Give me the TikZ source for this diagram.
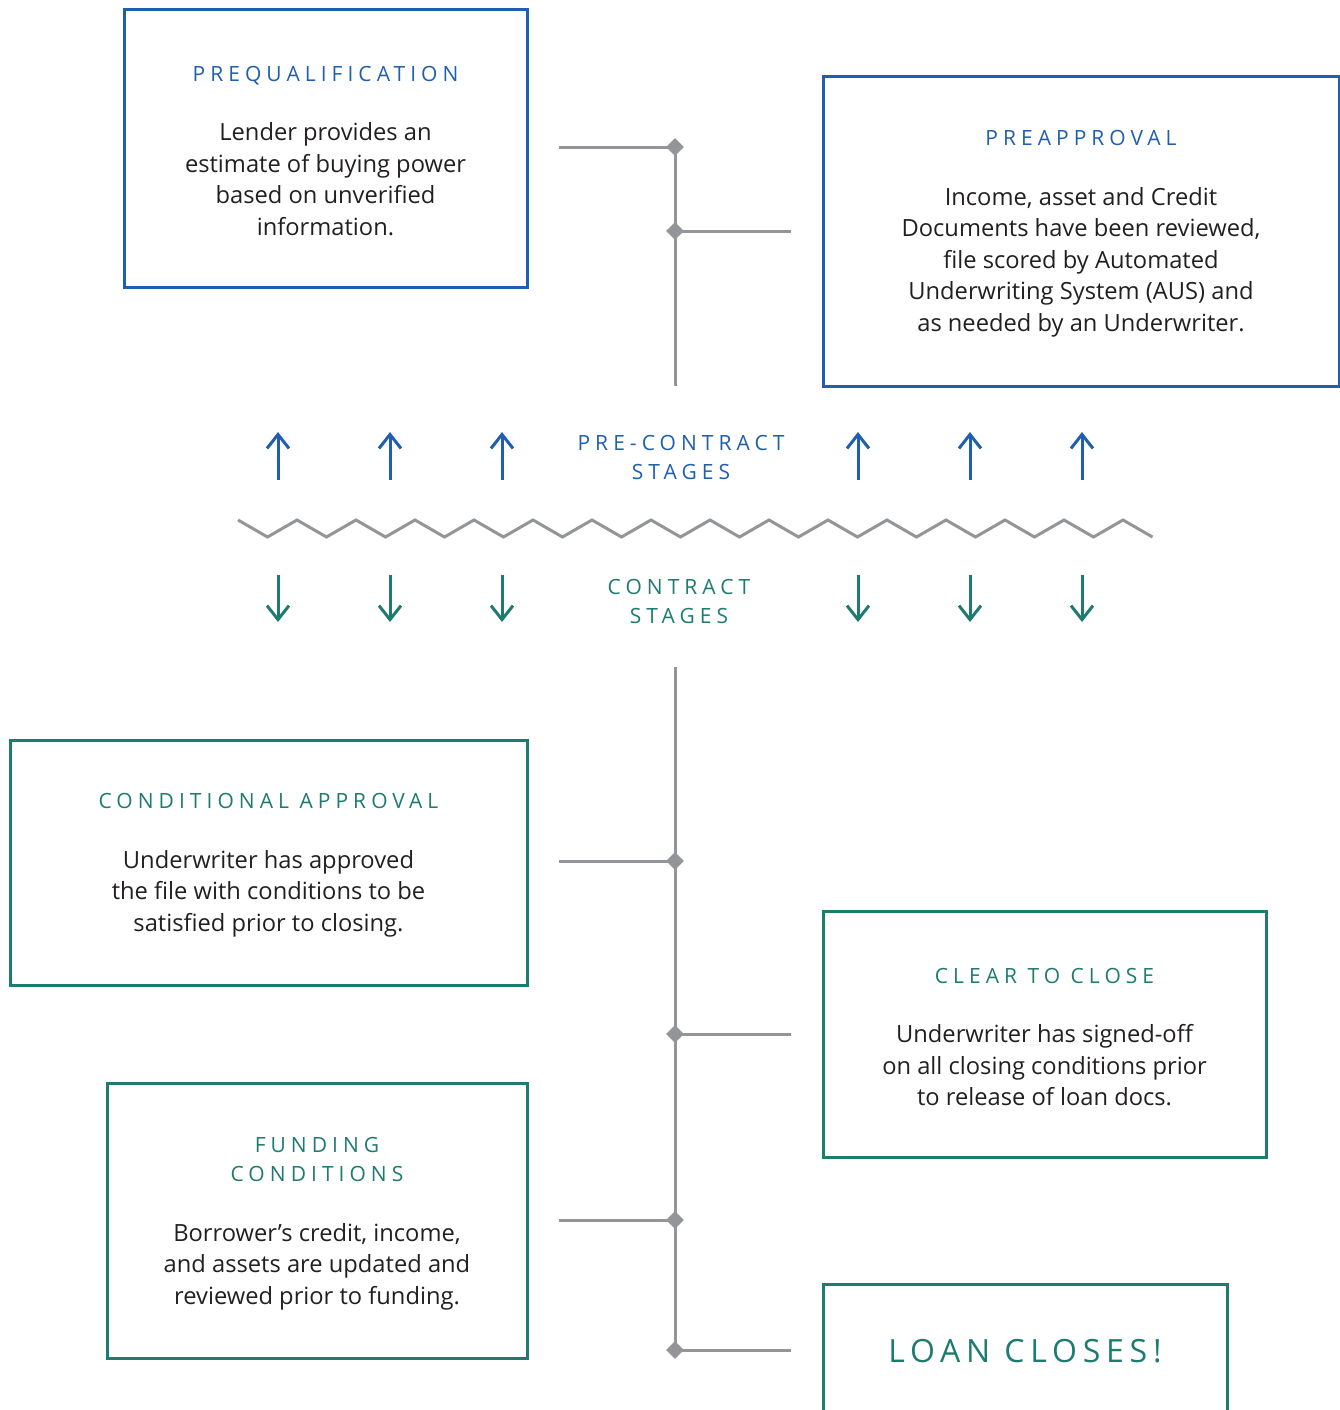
\documentclass[tikz,border=0pt]{standalone}
\usepackage{fontspec}
\setmainfont{Open Sans}
\newfontfamily\spacedfont[LetterSpace=24]{Open Sans}
\newfontfamily\widefont[LetterSpace=18]{Open Sans}
\usetikzlibrary{arrows,arrows.meta,shapes,positioning}
\definecolor{stageblue}{HTML}{1F5FAD}
\definecolor{stagegreen}{HTML}{1E7B6F}
\definecolor{linegray}{HTML}{939598}
\definecolor{bodytext}{HTML}{231F20}
\newcommand{\stagehead}[2]{{\color{#1}\spacedfont\fontsize{10.5}{14.5}\selectfont\rule{0pt}{10.5pt}#2}}

\begin{document}
\begin{tikzpicture}[x=0.5pt,y=-0.5pt]
\tikzset{stagebox/.style = {draw, line width=1.5pt, align=center,
  inner sep=0pt, text=bodytext, font=\fontsize{11.85}{15.75}\selectfont},
  prebox/.style = {stagebox, draw=stageblue},
  conbox/.style = {stagebox, draw=stagegreen},
  joint/.style = {diamond, fill=linegray, inner sep=0pt, minimum size=9pt},
  timeline/.style = {draw=linegray, line width=1.5pt},
  uparrow/.style = {draw=stageblue, line width=1.5pt,
  -{Straight Barb[length=7pt,width=11pt]}},
  downarrow/.style = {uparrow, draw=stagegreen},
  stagelabel/.style = {align=center, inner sep=0pt,
  font=\spacedfont\fontsize{10.5}{14.5}\selectfont}}
\useasboundingbox (0,0) rectangle (1340,1410);

% pre-contract boxes
\node[prebox, minimum width=201.5pt, minimum height=139pt] (prequal) at (325.5,148)
  {\stagehead{stageblue}{PREQUALIFICATION}\\[14pt]
   Lender provides an\\ estimate of buying power\\ based on unverified\\ information.};
\node[prebox, minimum width=258pt, minimum height=155pt] (preapp) at (1081,231)
  {\stagehead{stageblue}{PREAPPROVAL}\\[14pt]
   Income, asset and Credit\\ Documents have been reviewed,\\ file scored by Automated\\
   Underwriting System (AUS) and\\ as needed by an Underwriter.};

% contract boxes
\node[conbox, minimum width=258.5pt, minimum height=122.5pt] (condapp) at (268.5,862.5)
  {\stagehead{stagegreen}{CONDITIONAL APPROVAL}\\[14pt]
   Underwriter has approved\\ the file with conditions to be\\ satisfied prior to closing.};
\node[conbox, minimum width=221.5pt, minimum height=123pt] (cleartoclose) at (1044.5,1034)
  {\stagehead{stagegreen}{CLEAR TO CLOSE}\\[14pt]
   Underwriter has signed-off\\ on all closing conditions prior\\ to release of loan docs.};
\node[conbox, minimum width=210pt, minimum height=137.5pt] (funding) at (317,1220.5)
  {\stagehead{stagegreen}{FUNDING}\\[-1pt]\stagehead{stagegreen}{CONDITIONS}\\[14pt]
   Borrower's credit, income,\\ and assets are updated and\\ reviewed prior to funding.};
\node[conbox, minimum width=202pt, minimum height=67pt,
  font=\widefont\fontsize{16}{20}\selectfont, text=stagegreen] (closes) at (1025,1351)
  {LOAN CLOSES!};

% timeline joints
\node[joint] (j1) at (675,147) {};
\node[joint] (j2) at (675,231) {};
\node[joint] (j3) at (675,861) {};
\node[joint] (j4) at (675,1034) {};
\node[joint] (j5) at (675,1220) {};
\node[joint] (j6) at (675,1350) {};
\coordinate (topcut) at (675,386);
\coordinate (botcut) at (675,667);
\coordinate (arm1) at (559,147);
\coordinate (arm2) at (791,231);
\coordinate (arm3) at (559,861);
\coordinate (arm4) at (791,1034);
\coordinate (arm5) at (559,1220);
\coordinate (arm6) at (791,1350);

\draw[timeline] (j1.center) -- (j2.center) -- (topcut);
\draw[timeline] (botcut) -- (j3.center) -- (j4.center) -- (j5.center) -- (j6.center);
\foreach \n in {1,...,6}
  \draw[timeline] (arm\n) -- (j\n.center);

% stage divider
\draw[timeline, line join=miter] (238,520)
  \foreach \i in {1,...,31} { -- ({238+29.5*\i},{520+17*isodd(\i)}) };

\foreach \x [count=\n] in {278,390,502,858,970,1082} {
  \coordinate (up\n a) at (\x,480);
  \coordinate (up\n b) at (\x,432);
  \coordinate (dn\n a) at (\x,575);
  \coordinate (dn\n b) at (\x,622);
  \draw[uparrow] (up\n a) -- (up\n b);
  \draw[downarrow] (dn\n a) -- (dn\n b);
}

\node[stagelabel, text=stageblue] (precontract) at (681,457.5) {PRE-CONTRACT\\STAGES};
\node[stagelabel, text=stagegreen] (contract) at (679,601) {CONTRACT\\STAGES};
\end{tikzpicture}
\end{document}
